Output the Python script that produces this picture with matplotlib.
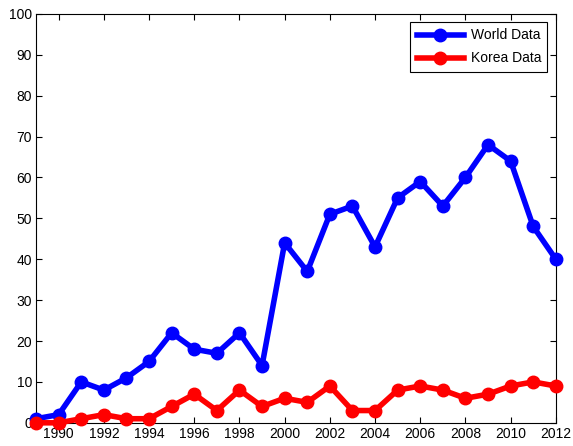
import matplotlib
matplotlib.use("Agg")
import matplotlib.pyplot as plt

years = list(range(1989, 2013))
world = [1, 2, 10, 8, 11, 15, 22, 18, 17, 22, 14, 44, 37, 51, 53, 43, 55, 59, 53, 60, 68, 64, 48, 40]
korea = [0, 0, 1, 2, 1, 1, 4, 7, 3, 8, 4, 6, 5, 9, 3, 3, 8, 9, 8, 6, 7, 9, 10, 9]
xticks = list(range(1990, 2013, 2))
yticks = list(range(0, 101, 10))

plt.rcParams["font.family"] = ["Liberation Sans", "DejaVu Sans"]

fig = plt.figure(figsize=(5.73, 4.46), dpi=100)
ax = fig.add_axes([0.063, 0.052, 0.907, 0.917])

ax.plot(years, world, color="blue", linewidth=4, marker="o", markersize=9,
        label="World Data", clip_on=False, zorder=3)
ax.plot(years, korea, color="red", linewidth=4, marker="o", markersize=9,
        label="Korea Data", clip_on=False, zorder=3)

ax.set_xlim(1989, 2012)
ax.set_ylim(0, 100)
ax.set_xticks(xticks)
ax.set_yticks(yticks)
ax.tick_params(direction="in", top=True, right=True, labelsize=10, length=4,
               width=0.8, pad=3)
for s in ax.spines.values():
    s.set_linewidth(0.8)

leg = ax.legend(loc="upper right", fontsize=10, fancybox=False, framealpha=1,
                edgecolor="black", handlelength=3.4, borderpad=0.45,
                labelspacing=0.65, borderaxespad=0.6, handletextpad=0.5)
leg.get_frame().set_linewidth(0.8)
leg.set_zorder(5)

fig.savefig("out.png", dpi=100)
